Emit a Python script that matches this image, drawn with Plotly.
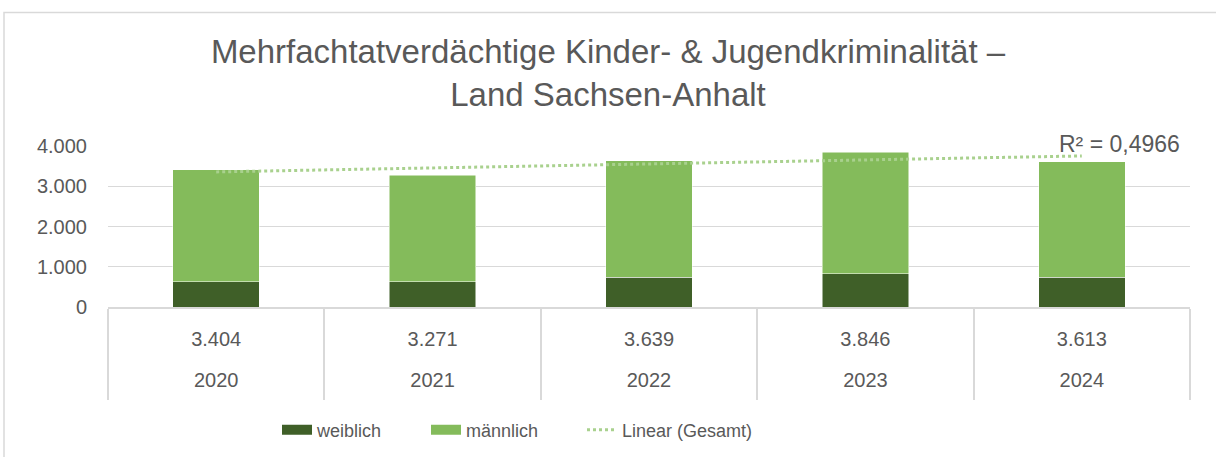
import numpy as np
import plotly.graph_objects as go

jahre = ["2020", "2021", "2022", "2023", "2024"]
weiblich = [630, 630, 740, 830, 735]
maennlich = [2774, 2641, 2899, 3016, 2878]
gesamt = [a + b for a, b in zip(weiblich, maennlich)]
gesamt_labels = [f"{v:,}".replace(",", ".") for v in gesamt]

# linear trend of totals
idx = np.arange(len(gesamt))
slope, intercept = np.polyfit(idx, gesamt, 1)
trend = list(slope * idx + intercept)
pred = np.array(trend)
r2 = 1 - np.sum((np.array(gesamt) - pred) ** 2) / np.sum((np.array(gesamt) - np.mean(gesamt)) ** 2)
r2_text = "R² = " + f"{r2:.4f}".replace(".", ",")

FONT = "Liberation Sans, Arial, sans-serif"
GREY = "#595959"
GRID = "#d9d9d9"
C_W = "#3f5f28"
C_M = "#84bb5b"
C_T = "#a9d18e"

L, R, T, B = 108, 26, 146, 150
PW = 1216 - L - R
PH = 457 - T - B


def px_x(p):
    return (p - L) / PW


def px_y(p):
    return (457 - B - p) / PH


fig = go.Figure()
fig.add_trace(go.Bar(name="weiblich", x=jahre, y=weiblich, showlegend=False, legendgroup="w",
                     marker=dict(color=C_W, line=dict(color="#ffffff", width=0.5))))
fig.add_trace(go.Bar(name="männlich", x=jahre, y=maennlich, showlegend=False, legendgroup="m",
                     marker=dict(color=C_M, line=dict(color="#ffffff", width=0.5))))
fig.add_trace(go.Scatter(name="Linear (Gesamt)", x=jahre, y=trend, mode="lines", legend="legend3",
                         line=dict(color=C_T, width=3, dash="dot")))
# legend entries drawn as wide blocks like the original
fig.add_trace(go.Scatter(name="weiblich", x=[None], y=[None], mode="lines", legendgroup="w",
                         legend="legend", line=dict(color=C_W, width=11), hoverinfo="skip"))
fig.add_trace(go.Scatter(name="männlich", x=[None], y=[None], mode="lines", legendgroup="m",
                         legend="legend2", line=dict(color=C_M, width=11), hoverinfo="skip"))

fig.add_annotation(x=4, y=trend[-1], xref="x", yref="y", text=r2_text, showarrow=False,
                   xanchor="left", yanchor="bottom", xshift=-25, yshift=-3,
                   font=dict(family=FONT, size=23, color=GREY))

# chart border
fig.add_shape(type="rect", xref="paper", yref="paper", x0=px_x(4), x1=1.2, y0=-1.2, y1=px_y(12.5),
              line=dict(color=GRID, width=1.5), fillcolor="rgba(0,0,0,0)", layer="below")

leg_common = dict(orientation="h", xanchor="left", yanchor="middle", y=px_y(430),
                  font=dict(size=18, color=GREY, family=FONT), bgcolor="rgba(0,0,0,0)")

fig.update_layout(
    width=1216, height=457,
    barmode="stack", bargap=0.6,
    separators=",.",
    paper_bgcolor="white", plot_bgcolor="white",
    margin=dict(l=L, r=R, t=T, b=B, autoexpand=False),
    font=dict(family=FONT, size=20, color=GREY),
    title=dict(text="Mehrfachtatverdächtige Kinder- & Jugendkriminalität –<br>Land Sachsen-Anhalt",
               x=0.5, xanchor="center", yref="container", y=1 - 63 / 457, yanchor="middle",
               font=dict(family=FONT, size=33, color=GREY)),
    legend=dict(x=px_x(283 - 6), **leg_common),
    legend2=dict(x=px_x(432 - 6), **leg_common),
    legend3=dict(x=px_x(588 - 6), **leg_common),
    showlegend=True,
    xaxis=dict(type="category", range=[-0.5, 4.5], showline=True, linecolor=GRID, linewidth=1.5,
               ticks="outside", tickson="boundaries", ticklen=91, tickcolor=GRID, tickwidth=1.5,
               tickmode="array", tickvals=jahre, ticktext=gesamt_labels,
               ticklabelstandoff=13, tickfont=dict(size=20, color=GREY), showgrid=False),
    xaxis2=dict(overlaying="x", anchor="y", side="bottom", range=[-0.5, 4.5], type="linear",
                tickmode="array", tickvals=list(range(len(jahre))), ticktext=jahre,
                ticks="", showline=False, showgrid=False, zeroline=False,
                ticklabelstandoff=59, tickfont=dict(size=20, color=GREY)),
)
# invisible trace to activate the year-label axis
fig.add_trace(go.Scatter(x=list(range(len(jahre))), y=[None] * len(jahre), xaxis="x2", yaxis="y",
                         showlegend=False, hoverinfo="skip", mode="markers"))
fig.update_yaxes(range=[0, 4000], dtick=1000, tickformat=",d", showgrid=True, gridcolor=GRID,
                 gridwidth=1.2, zeroline=False, showline=False, ticks="", ticklabelstandoff=20,
                 tickfont=dict(size=20, color=GREY))

fig.write_html("out.html", config={"displayModeBar": False},
               post_script="document.body.style.margin='0';document.body.style.overflow='hidden';")
